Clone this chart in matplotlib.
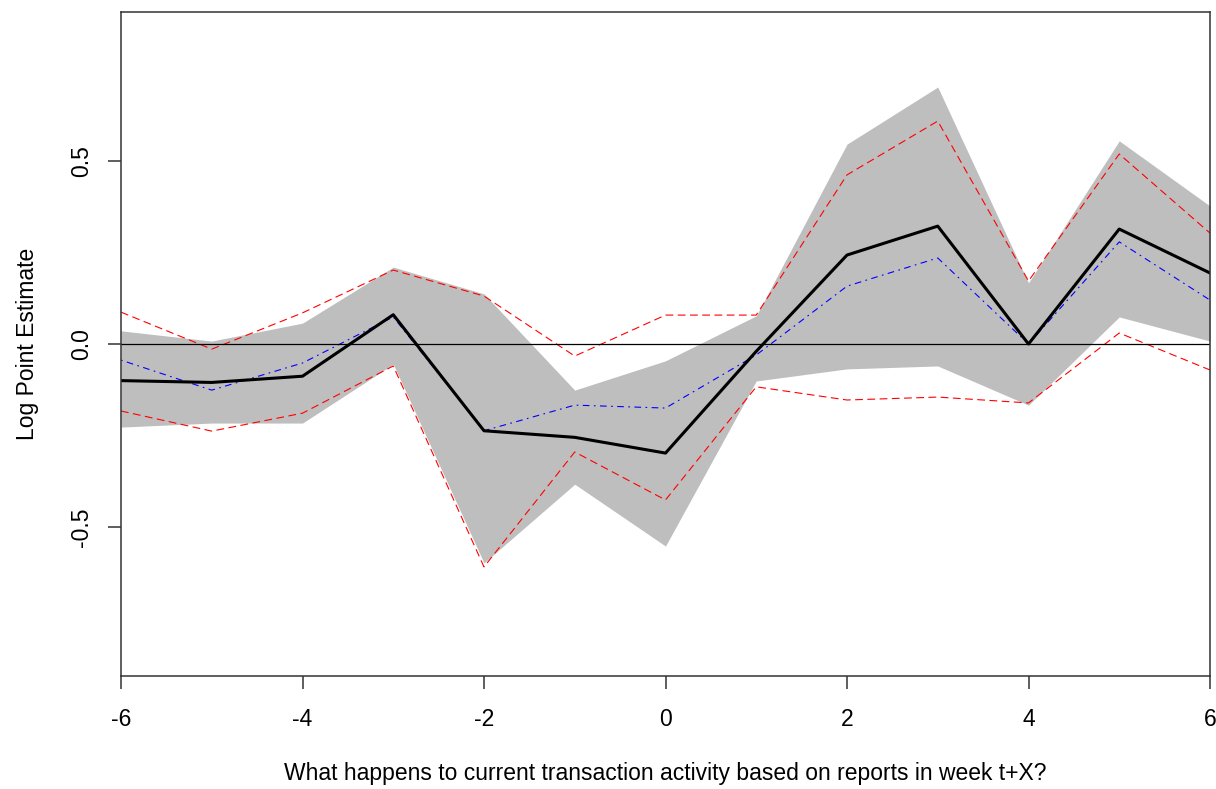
import matplotlib
matplotlib.use("Agg")
from matplotlib import pyplot as plt

plt.rcParams['font.family'] = ['Liberation Sans', 'DejaVu Sans']

weeks = [-6, -5, -4, -3, -2, -1, 0, 1, 2, 3, 4, 5, 6]

# point estimate (black) and alternative spec (blue)
est = [-0.10, -0.105, -0.088, 0.08, -0.237, -0.255, -0.298, -0.02, 0.243, 0.322, 0.0, 0.314, 0.194]
alt = [-0.044, -0.126, -0.052, 0.074, -0.237, -0.167, -0.175, -0.03, 0.158, 0.235, 0.0, 0.279, 0.12]

# confidence bands
band_hi = [0.036, 0.008, 0.057, 0.21, 0.137, -0.126, -0.046, 0.077, 0.546, 0.702, 0.167, 0.555, 0.377]
band_lo = [-0.227, -0.216, -0.216, -0.055, -0.598, -0.383, -0.552, -0.101, -0.068, -0.06, -0.167, 0.074, 0.008]
red_hi = [0.087, -0.014, 0.085, 0.202, 0.131, -0.033, 0.079, 0.079, 0.462, 0.609, 0.172, 0.519, 0.303]
red_lo = [-0.183, -0.238, -0.189, -0.06, -0.609, -0.295, -0.426, -0.117, -0.153, -0.145, -0.161, 0.03, -0.071]

fig = plt.figure(figsize=(12.16, 7.89), dpi=100)
ax = fig.add_axes([121 / 1216, 1 - 676 / 789, (1210 - 121) / 1216, (676 - 12) / 789])

ax.fill_between(weeks, band_lo, band_hi, color="#BEBEBE", linewidth=0)
ax.plot(weeks, red_hi, color="red", lw=0.8, dashes=(7, 4))
ax.plot(weeks, red_lo, color="red", lw=0.8, dashes=(7, 4))
ax.plot(weeks, alt, color="blue", lw=0.8, dashes=(1.5, 4, 6, 4))
ax.plot(weeks, est, color="black", lw=2.2)
ax.axhline(0, color="black", lw=0.9)

ax.set_xlim(-6, 6)
ax.set_ylim(-0.907, 0.907)
ax.set_xticks([-6, -4, -2, 0, 2, 4, 6])
ax.set_xticklabels(["-6", "-4", "-2", "0", "2", "4", "6"])
ax.set_yticks([-0.5, 0.0, 0.5])
ax.set_yticklabels(["-0.5", "0.0", "0.5"], rotation=90, va="center")

for s in ax.spines.values():
    s.set_color("#333333")
    s.set_linewidth(1.1)
ax.tick_params(direction="out", length=9.4, width=1.1, color="#333333", labelsize=16.5)
ax.tick_params(axis="x", pad=14)
ax.tick_params(axis="y", pad=11)

ax.set_xlabel("What happens to current transaction activity based on reports in week t+X?",
              fontsize=16.5, labelpad=22)
ax.set_ylabel("Log Point Estimate", fontsize=16.5, labelpad=22)

fig.savefig("out.png", dpi=100)
